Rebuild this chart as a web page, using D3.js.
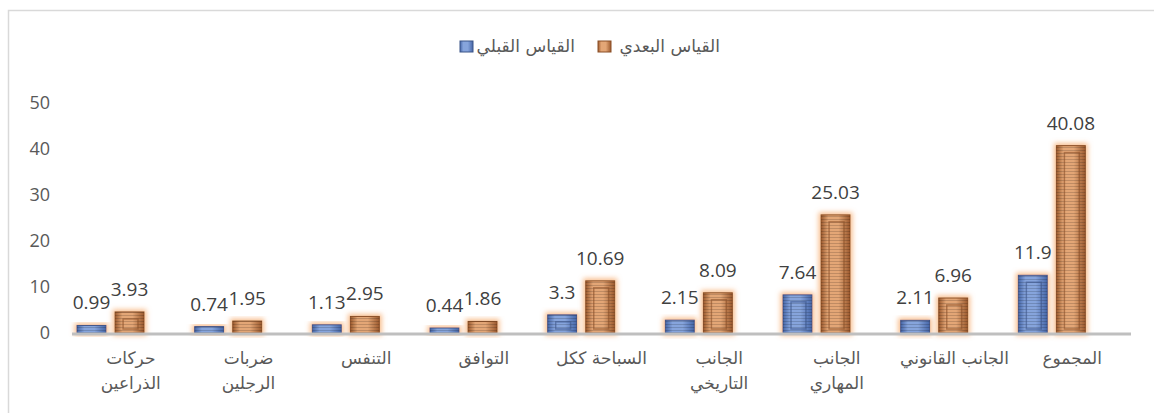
<!DOCTYPE html>
<html>
<head>
<meta charset="utf-8">
<script src="https://cdn.jsdelivr.net/npm/d3@7"></script>
<style>
  body { margin: 0; background: #fff; }
  svg { display: block; }
</style>
</head>
<body>
<div id="chart"></div>
<script>
//data
var categories = ["حركات الذراعين", "ضربات الرجلين", "التنفس", "التوافق", "السباحة ككل",
                  "الجانب التاريخي", "الجانب المهاري", "الجانب القانوني", "المجموع"];
//how the category labels wrap
var categoryLines = [["حركات", "الذراعين"], ["ضربات", "الرجلين"], ["التنفس"], ["التوافق"], ["السباحة ككل"],
                     ["الجانب", "التاريخي"], ["الجانب", "المهاري"], ["الجانب القانوني"], ["المجموع"]];
var seriesNames = ["القياس القبلي", "القياس البعدي"];
var before = [0.99, 0.74, 1.13, 0.44, 3.3, 2.15, 7.64, 2.11, 11.9];
var after = [3.93, 1.95, 2.95, 1.86, 10.69, 8.09, 25.03, 6.96, 40.08];
var yTicks = [0, 10, 20, 30, 40, 50];

var width = 1154, height = 413;

var svg = d3.select("#chart").append("svg")
    .attr("width", width)
    .attr("height", height);

//chart frame (only top and left edges show)
svg.append("path")
    .attr("d", "M8.5," + height + "V10.5H" + width)
    .attr("fill", "none")
    .attr("stroke", "#d9d9d9")
    .attr("stroke-width", 1.5);

var defs = svg.append("defs");

//soft orange glow round every bar
var glow = defs.append("filter").attr("id", "glow")
    .attr("x", "-40%").attr("y", "-40%").attr("width", "180%").attr("height", "180%");
glow.append("feMorphology").attr("in", "SourceAlpha").attr("operator", "dilate").attr("radius", 2).attr("result", "d");
glow.append("feGaussianBlur").attr("in", "d").attr("stdDeviation", 2.5).attr("result", "b");
glow.append("feFlood").attr("flood-color", "#f6a96a").attr("flood-opacity", 0.75);
glow.append("feComposite").attr("in2", "b").attr("operator", "in").attr("result", "g");
var merge = glow.append("feMerge");
merge.append("feMergeNode").attr("in", "g");
merge.append("feMergeNode").attr("in", "SourceGraphic");

function barGradient(id, edge, mid) {
    var g = defs.append("linearGradient").attr("id", id)
        .attr("x1", "0").attr("x2", "1").attr("y1", "0").attr("y2", "0");
    g.append("stop").attr("offset", "0").attr("stop-color", edge);
    g.append("stop").attr("offset", "0.25").attr("stop-color", mid);
    g.append("stop").attr("offset", "0.6").attr("stop-color", mid);
    g.append("stop").attr("offset", "1").attr("stop-color", edge);
}
barGradient("gBlue", "#4666a8", "#86a4dc");
barGradient("gOrange", "#9c5a2e", "#e3a676");

//horizontal stripes over the bars
var stripes = defs.append("pattern").attr("id", "stripes")
    .attr("patternUnits", "userSpaceOnUse").attr("width", 6).attr("height", 3);
stripes.append("rect").attr("width", 6).attr("height", 1).attr("fill", "#000").attr("opacity", 0.16);

var colors = {fill: ["url(#gBlue)", "url(#gOrange)"], stroke: ["#3a5488", "#8a4e26"]};

//scales
var x0 = d3.scaleBand().domain(categories).range([72, 1131]);
var x1 = d3.scaleBand().domain(seriesNames).range([5, 72]).paddingInner(0.24);
var y = d3.scaleLinear().domain([0, 50]).range([333, 103]);

//y tick labels
svg.append("g")
    .selectAll("text")
    .data(yTicks)
    .join("text")
    .attr("x", 50)
    .attr("y", d => y(d) + 6)
    .attr("text-anchor", "end")
    .attr("font-family", "'Open Sans', 'DejaVu Sans', sans-serif")
    .attr("font-size", 18)
    .attr("fill", "#595959")
    .text(d => d);

//bars
var rows = categories.map((c, i) => ({cat: c, values: [before[i], after[i]]}));

var groups = svg.append("g")
    .selectAll("g")
    .data(rows)
    .join("g")
    .attr("transform", d => "translate(" + x0(d.cat) + ",0)");

var bars = groups.selectAll("g.bar")
    .data(d => d.values.map((v, k) => ({v: v, k: k, s: seriesNames[k]})))
    .join("g")
    .attr("class", "bar");

bars.append("rect")
    .attr("x", d => x1(d.s))
    .attr("y", d => y(d.v) - 3)
    .attr("width", x1.bandwidth())
    .attr("height", d => y(0) - y(d.v) + 3)
    .attr("fill", d => colors.fill[d.k])
    .attr("stroke", d => colors.stroke[d.k])
    .attr("stroke-width", 1)
    .attr("filter", "url(#glow)");

bars.append("rect")
    .attr("x", d => x1(d.s))
    .attr("y", d => y(d.v) - 3)
    .attr("width", x1.bandwidth())
    .attr("height", d => y(0) - y(d.v) + 3)
    .attr("fill", "url(#stripes)");

//inner frame of the 3d look
bars.filter(d => y(0) - y(d.v) > 14)
    .append("rect")
    .attr("x", d => x1(d.s) + 8)
    .attr("y", d => y(d.v) + 4)
    .attr("width", x1.bandwidth() - 14)
    .attr("height", d => y(0) - y(d.v) - 8)
    .attr("fill", "none")
    .attr("stroke", d => colors.stroke[d.k])
    .attr("stroke-opacity", 0.6)
    .attr("stroke-width", 1.5);

//value labels
groups.selectAll("text.val")
    .data(d => d.values.map((v, k) => ({v: v, s: seriesNames[k]})))
    .join("text")
    .attr("class", "val")
    .attr("x", d => x1(d.s) + x1.bandwidth() / 2)
    .attr("y", d => y(d.v) - 19)
    .attr("text-anchor", "middle")
    .attr("font-family", "'Open Sans', 'DejaVu Sans', sans-serif")
    .attr("font-size", 19)
    .attr("fill", "#404040")
    .text(d => d.v);

//x axis line
svg.append("line")
    .attr("x1", x0.range()[0]).attr("x2", x0.range()[1])
    .attr("y1", y(0) + 1).attr("y2", y(0) + 1)
    .attr("stroke", "#bfbfbf")
    .attr("stroke-width", 3);

//category labels
var catText = svg.append("g")
    .selectAll("text")
    .data(categories)
    .join("text")
    .attr("x", d => x0(d) + x0.bandwidth() / 2)
    .attr("y", 364)
    .attr("text-anchor", "middle")
    .attr("font-family", "'DejaVu Sans', sans-serif")
    .attr("font-size", 17)
    .attr("fill", "#595959");

catText.selectAll("tspan")
    .data((d, i) => categoryLines[i])
    .join("tspan")
    .attr("x", function() { return d3.select(this.parentNode).attr("x"); })
    .attr("dy", (d, j) => j === 0 ? 0 : 25)
    .text(d => d);

//legend
var legend = svg.append("g");
var legendItems = [
    {name: seriesNames[1], k: 1, sq: 598, tx: 720},
    {name: seriesNames[0], k: 0, sq: 460, tx: 575}
];
legendItems.forEach(function(it) {
    legend.append("rect")
        .attr("x", it.sq).attr("y", 41)
        .attr("width", 13).attr("height", 11)
        .attr("fill", colors.fill[it.k])
        .attr("stroke", colors.stroke[it.k]);
    legend.append("text")
        .attr("x", it.tx).attr("y", 52)
        .attr("text-anchor", "end")
        .attr("font-family", "'DejaVu Sans', sans-serif")
        .attr("font-size", 17)
        .attr("fill", "#595959")
        .text(it.name);
});
</script>
</body>
</html>
